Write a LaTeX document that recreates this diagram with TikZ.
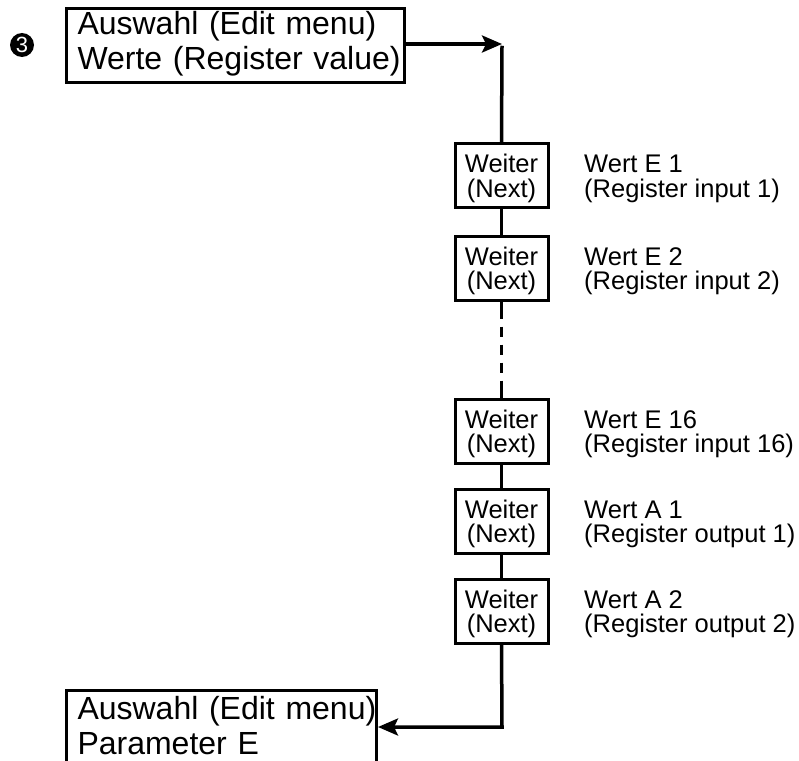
\documentclass[tikz,border=0pt]{standalone}
\usepackage{fontspec}
\setmainfont{Liberation Sans}
\usetikzlibrary{arrows.meta}
\begin{document}
\begin{tikzpicture}[x=1pt,y=-1pt,
  menubox/.style={draw, line width=3pt, anchor=north west, inner xsep=11pt, inner ysep=0pt,
    text width=316pt, align=left, font=\fontsize{32}{34.5}\selectfont},
  nextbox/.style={draw, line width=3pt, minimum width=93pt, inner xsep=0pt, inner ysep=0pt,
    text height=53.5pt, text depth=10.5pt, align=center, font=\fontsize{25.5}{24.5}\selectfont},
  valuelabel/.style={anchor=base west, inner sep=0pt, align=left, font=\fontsize{25.5}{24.5}\selectfont},
  flow/.style={line width=3.5pt},
  flowarrow/.style={line width=3.5pt, -{Stealth[length=20pt,width=17pt,inset=4pt]}}]
\useasboundingbox (0,0) rectangle (799,760);

% step marker
\node[circle, fill=black, minimum size=24pt, inner sep=0pt, text=white,
  font=\fontsize{22}{22}\selectfont] (step3) at (22,45) {3};

% entry and exit menus
\node[menubox, text height=26pt, text depth=48pt] (entry) at (65,7)
  {\mbox{Auswahl (Edit menu)}\\\mbox{Werte (Register value)}};
\node[menubox, text width=288pt, text height=29pt, text depth=71pt] (exit) at (65,689)
  {\mbox{Auswahl (Edit menu)}\\\mbox{Parameter E}};

% chain of Next steps
\node[nextbox] (w1) at (501.5,175.5) {Weiter\\(Next)};
\node[nextbox] (w2) at (501.5,268)   {Weiter\\(Next)};
\node[nextbox] (w3) at (501.5,431)   {Weiter\\(Next)};
\node[nextbox] (w4) at (501.5,521)   {Weiter\\(Next)};
\node[nextbox] (w5) at (501.5,611)   {Weiter\\(Next)};

% register value labels, on the baselines of the boxes
\coordinate (labelx) at (584,0);
\node[valuelabel] (l1) at (w1.base -| labelx) {Wert E 1\\(Register input 1)};
\node[valuelabel] (l2) at (w2.base -| labelx) {Wert E 2\\(Register input 2)};
\node[valuelabel] (l3) at (w3.base -| labelx) {Wert E 16\\(Register input 16)};
\node[valuelabel] (l4) at (w4.base -| labelx) {Wert A 1\\(Register output 1)};
\node[valuelabel] (l5) at (w5.base -| labelx) {Wert A 2\\(Register output 2)};

% connectors
\coordinate (topturn) at (502,44);
\coordinate (botturn) at (502,727);
\draw[flowarrow] (entry.east |- topturn) -- (topturn);
\draw[flow] ([yshift=-1.75pt]topturn) -- (w1.north);
\draw[flow] (w1) -- (w2);
\draw[flow, dash pattern=on 17pt off 8pt on 10pt off 8pt on 10pt off 8pt on 10pt off 8pt on 40pt]
  (w2.south) -- (w3.north);
\draw[flow] (w3) -- (w4);
\draw[flow] (w4) -- (w5);
\draw[flowarrow] (w5.south) -- (botturn) -- (exit.east |- botturn);
\end{tikzpicture}
\end{document}
